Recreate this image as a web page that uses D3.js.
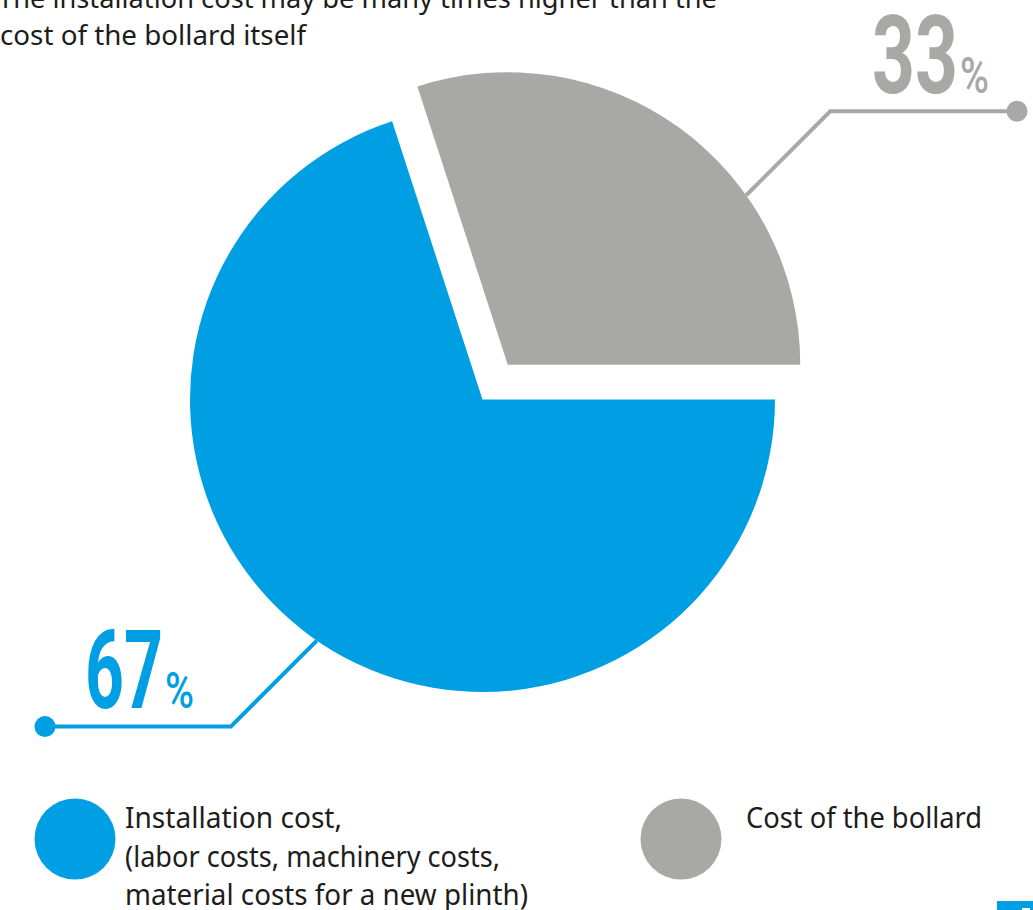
<!DOCTYPE html>
<html>
<head>
<meta charset="utf-8">
<script src="https://d3js.org/d3.v7.min.js"></script>
<style>
  html, body { margin: 0; padding: 0; background: #fff; }
  svg { display: block; }
  .note, .legend text { font-family: 'Noto Sans', 'Open Sans', sans-serif; fill: #1d1d1b; }
  .big { font-family: Roboto, sans-serif; font-weight: 700; }
  .pct { font-family: Roboto, sans-serif; font-weight: 500; }
</style>
</head>
<body>
<div id="chart"></div>
<script>
// --- data ---
const categories = ["Installation cost", "Cost of the bollard"];
const percentLabels = [67, 33];
// angular share of each slice as it is actually drawn in the picture
const sliceShares = [70, 30];
const colors = ["#009fe3", "#a8a8a7"];
const legendLines = [
  ["Installation cost,", "(labor costs, machinery costs,", "material costs for a new plinth)"],
  ["Cost of the bollard"]
];
const legendWidths = [[217, 375, 403], [236]];
const noteLines = ["The installation cost may be many times higher than the", "cost of the bollard itself"];
const noteWidths = [719, 306];

// --- layout ---
const width = 1033, height = 910;
const cx = 482.5, cy = 399.5, radius = 292.5;
const explode = [0, 43];
const leaderAngle = [214.5, 54.6];   // degrees, clockwise from 12 o'clock
const leaderRun = [86, 84];
const dotX = [45, 1017];
const labelX = [85, 872], labelY = [708, 93], labelLen = [78, 86];

const svg = d3.select("#chart").append("svg")
    .attr("width", width)
    .attr("height", height);

const pie = d3.pie()
    .sort(null)
    .startAngle(Math.PI / 2)
    .endAngle(Math.PI / 2 + 2 * Math.PI);

const arcs = pie(sliceShares).map((d, i) => {
    const mid = (d.startAngle + d.endAngle) / 2;
    d.cx = cx + explode[i] * Math.sin(mid);
    d.cy = cy - explode[i] * Math.cos(mid);
    d.index = i;
    return d;
});

const arc = d3.arc().innerRadius(0).outerRadius(radius);

// leader lines (under the slices)
const leaders = arcs.map((d, i) => {
    const a = leaderAngle[i] * Math.PI / 180;
    const ax = d.cx + radius * Math.sin(a), ay = d.cy - radius * Math.cos(a);
    const sx = Math.sin(a) > 0 ? 1 : -1, sy = Math.cos(a) > 0 ? -1 : 1;
    const ex = ax + sx * leaderRun[i], ey = ay + sy * leaderRun[i];
    return { anchor: [ax, ay], elbow: [ex, ey], dot: [dotX[i], ey], i };
});

svg.append("g").attr("class", "leaders")
    .selectAll("path")
    .data(leaders)
    .enter().append("path")
    .attr("d", d => d3.line()([d.dot, d.elbow, d.anchor]))
    .attr("fill", "none")
    .attr("stroke", d => colors[d.i])
    .attr("stroke-width", 4);

svg.append("g").attr("class", "slices")
    .selectAll("path")
    .data(arcs)
    .enter().append("path")
    .attr("transform", d => `translate(${d.cx},${d.cy})`)
    .attr("d", arc)
    .attr("fill", d => colors[d.index]);

svg.append("g").attr("class", "dots")
    .selectAll("circle")
    .data(leaders)
    .enter().append("circle")
    .attr("cx", d => d.dot[0])
    .attr("cy", d => d.dot[1])
    .attr("r", 10.5)
    .attr("fill", d => colors[d.i]);

// big percentage labels
const labels = svg.append("g").attr("class", "labels")
    .selectAll("g")
    .data(percentLabels)
    .enter().append("g");

labels.append("text")
    .attr("class", "big")
    .attr("x", (d, i) => labelX[i])
    .attr("y", (d, i) => labelY[i])
    .attr("font-size", 110)
    .attr("textLength", (d, i) => labelLen[i])
    .attr("lengthAdjust", "spacingAndGlyphs")
    .attr("fill", (d, i) => colors[i])
    .text(d => d);

labels.append("text")
    .attr("class", "pct")
    .attr("x", (d, i) => labelX[i] + labelLen[i] + 2)
    .attr("y", (d, i) => labelY[i])
    .attr("font-size", 50)
    .attr("textLength", 29)
    .attr("lengthAdjust", "spacingAndGlyphs")
    .attr("fill", (d, i) => colors[i])
    .text("%");

// note at the top (first line runs off the top edge)
svg.append("g")
    .selectAll("text")
    .data(noteLines)
    .enter().append("text")
    .attr("class", "note")
    .attr("x", (d, i) => i === 0 ? -2 : 0)
    .attr("y", (d, i) => 8 + i * 37)
    .attr("font-size", 27)
    .attr("textLength", (d, i) => noteWidths[i])
    .attr("lengthAdjust", "spacingAndGlyphs")
    .text(d => d);

// legend
const legendX = [75, 681], legendY = 839;
const legend = svg.append("g").attr("class", "legend")
    .selectAll("g")
    .data(categories)
    .enter().append("g");

legend.append("circle")
    .attr("cx", (d, i) => legendX[i])
    .attr("cy", legendY)
    .attr("r", 40.5)
    .attr("fill", (d, i) => colors[i]);

legend.each(function(d, i) {
    d3.select(this).selectAll("text")
        .data(legendLines[i])
        .enter().append("text")
        .attr("x", legendX[i] + 50 + (i === 1 ? 15 : 0))
        .attr("y", (t, j) => 828 + j * 38.5)
        .attr("font-size", 29)
        .attr("textLength", (t, j) => legendWidths[i][j])
        .attr("lengthAdjust", "spacingAndGlyphs")
        .text(t => t);
});

// page corner tab
svg.append("rect").attr("x", 997).attr("y", 901).attr("width", 36).attr("height", 9).attr("fill", colors[0]);
svg.append("rect").attr("x", 1022).attr("y", 908).attr("width", 8).attr("height", 2).attr("fill", "#fff");
</script>
</body>
</html>
